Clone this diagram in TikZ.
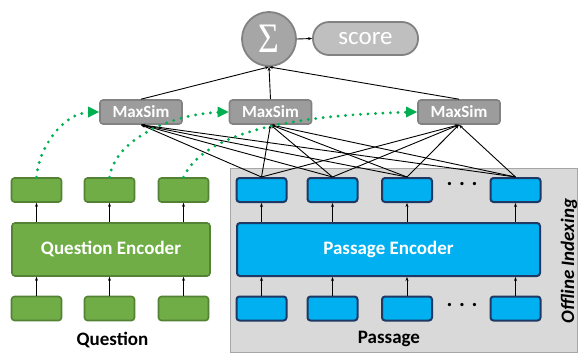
\documentclass[tikz,border=0pt]{standalone}
\usepackage{fontspec}
\setmainfont{Carlito}
\newfontfamily\sigmafont{Liberation Serif}
\usepackage{tikz}
\usetikzlibrary{arrows.meta, positioning}

\definecolor{qgreen}{HTML}{70AD47}
\definecolor{qgreendark}{HTML}{548235}
\definecolor{dotgreen}{HTML}{00B050}
\definecolor{pblue}{HTML}{00B0F0}
\definecolor{pnavy}{HTML}{1F3864}
\definecolor{panel}{HTML}{D9D9D9}
\definecolor{panelline}{HTML}{A6A6A6}
\definecolor{simgray}{HTML}{9C9C9C}
\definecolor{simline}{HTML}{828282}

\begin{document}
\begin{tikzpicture}[x=1pt, y=-1pt,
    tok/.style={rounded corners=3pt, minimum width=50pt, minimum height=24pt, inner sep=0pt},
    qtok/.style={tok, fill=qgreen, draw=qgreendark, line width=1.6pt},
    ptok/.style={tok, fill=pblue, draw=pnavy, line width=2pt},
    enc/.style={rounded corners=3pt, minimum height=53pt, inner sep=0pt, text=white, font=\fontsize{19}{22}\selectfont\bfseries},
    simbox/.style={rounded corners=3pt, fill=simgray, draw=simline, line width=1.6pt, minimum height=24pt, minimum width=82pt, inner sep=0pt, text=white, font=\fontsize{17}{20}\selectfont\bfseries},
    lbl/.style={font=\fontsize{19}{22}\selectfont\bfseries},
    up/.style={-{Stealth[length=4pt, width=3pt]}, line width=0.9pt},
    link/.style={-{Stealth[length=4pt, width=3pt]}, line width=0.9pt},
    match/.style={dotgreen, line width=3.2pt, line cap=round, dash pattern=on 0pt off 7.5pt, shorten >=10pt},
  ]
    \useasboundingbox (0,0) rectangle (579,354);

    % offline part
    \draw[fill=panel, draw=panelline, line width=1pt] (230,168) rectangle (577,352);
    \node[lbl, rotate=90] (offline) at (569,261) {\itshape Offline Indexing};

    % question side
    \node[enc, fill=qgreen, draw=qgreendark, line width=1.6pt, minimum width=198pt] (qenc) at (111,249.5) {Question Encoder};
    \foreach \x [count=\i] in {36.5,109.5,183.5} {
        \node[qtok] (qin\i) at (\x,308.5) {};
        \node[qtok] (qout\i) at (\x,190) {};
        \draw[up] (qin\i.north) -- (qin\i.north |- qenc.south);
        \draw[up] (qout\i.south |- qenc.north) -- (qout\i.south);
    }
    \node[lbl] (question) at (112.5,340) {Question};

    % passage side
    \node[enc, fill=pblue, draw=pnavy, line width=2pt, minimum width=303pt] (penc) at (388.5,249.5) {Passage Encoder};
    \foreach \x [count=\i] in {261.5,332.5,407,515.5} {
        \node[ptok] (pin\i) at (\x,308.5) {};
        \node[ptok] (pout\i) at (\x,190) {};
        \draw[up] (pin\i.north) -- (pin\i.north |- penc.south);
        \draw[up] (pout\i.south |- penc.north) -- (pout\i.south);
    }
    \node[font=\fontsize{22}{22}\selectfont\bfseries] (pdots1) at (462,184) {. . .};
    \node[font=\fontsize{22}{22}\selectfont\bfseries] (pdots2) at (462,305) {. . .};
    \node[lbl] (passage) at (389,339) {Passage};

    % late interaction
    \node[simbox] (ms1) at (141,112) {MaxSim};
    \node[simbox] (ms2) at (270.5,112) {MaxSim};
    \node[simbox] (ms3) at (459,112) {MaxSim};
    \foreach \i in {1,...,4}
        \foreach \j in {1,2,3}
            \draw[link] (pout\i.north) -- (ms\j.south);

    \node[circle, fill=simgray!90, draw=simline, line width=1.8pt, minimum size=54pt, inner sep=0pt, text=white, font=\sigmafont\fontsize{42}{42}\selectfont] (sum) at (269,39) {\scalebox{0.85}[1]{Σ}};
    \node[rounded corners=16pt, fill=gray!50, draw=simline, line width=1.8pt, minimum width=105pt, minimum height=33pt, text=white, font=\fontsize{25}{25}\selectfont] (score) at (365.5,38.5) {score};
    \draw[link] (sum.east) -- (score.west);
    \foreach \j in {1,2,3}
        \draw[link] (ms\j.north) -- (sum.south);

    % matching of question tokens
    \draw[match] (qout1.north) .. controls (38,150) and (62,113) .. (ms1.west);
    \draw[match] (qout2.north) .. controls (115,140) and (170,114) .. (ms2.west);
    \draw[match] (qout3.north) .. controls (205,130) and (300,115) .. (ms3.west);
    \foreach \j in {1,2,3}
        \fill[dotgreen] (ms\j.west) -- ++(-11,-5.5) -- ++(0,11) -- cycle;
\end{tikzpicture}
\end{document}
